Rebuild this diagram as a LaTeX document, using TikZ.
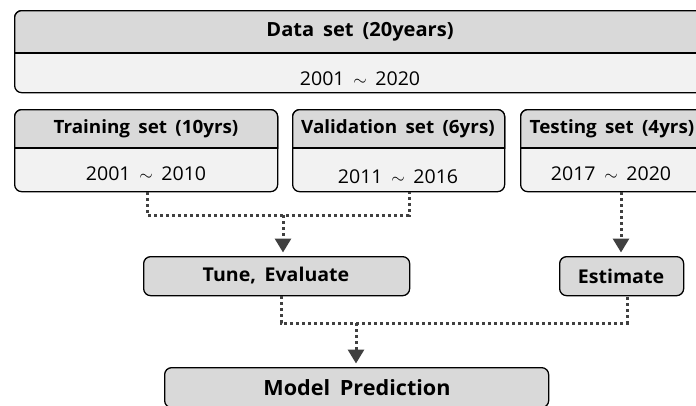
\documentclass[tikz,border=0pt]{standalone}
\usepackage{fontspec}
\setmainfont{Open Sans}[WordSpace=1.7, FakeStretch=1.03]
\usetikzlibrary{arrows.meta,calc}
\definecolor{hdr}{HTML}{D9D9D9}
\definecolor{bodyc}{HTML}{F2F2F2}
\definecolor{dotc}{HTML}{404040}
\begin{document}
\begin{tikzpicture}[x=1pt,y=-1pt,
  box/.style={draw=black, line width=1.3pt, rounded corners=7pt, inner sep=0pt, anchor=north west},
  hdrtxt/.style={font=\fontsize{18.3}{20}\selectfont\bfseries, inner sep=0pt},
  toptxt/.style={font=\fontsize{19.5}{21}\selectfont\bfseries, inner sep=0pt},
  midtxt/.style={font=\fontsize{19}{21}\selectfont\bfseries, inner sep=0pt},
  bigtxt/.style={font=\fontsize{21}{23}\selectfont\bfseries, inner sep=0pt},
  bodytxt/.style={font=\fontsize{19}{21}\selectfont, inner sep=0pt},
  dotline/.style={draw=dotc, line width=3pt, dash pattern=on 3pt off 3pt},
  arr/.style={-{Triangle[width=16pt,length=14pt]}, shorten >=3.5pt}
]
\useasboundingbox (0,0) rectangle (696,405);

% split boxes: #1 name, #2 x1, #3 y1, #4 x2, #5 y2, #6 divider y
\newcommand{\mysplitbox}[6]{%
  \node[box, fill=bodyc, minimum width={(#4-#2)*1pt}, minimum height={(#5-#3)*1pt}] (#1) at (#2,#3) {};
  \begin{scope}
    \clip (#2-3,#3-3) rectangle (#4+3,#6);
    \node[box, fill=hdr, minimum width={(#4-#2)*1pt}, minimum height={(#5-#3)*1pt}] (#1-h) at (#2,#3) {};
  \end{scope}
  \draw[line width=1.3pt] (#1.west |- 0,#6) -- (#1.east |- 0,#6);
}
\newcommand{\mytl}{$\sim$}

\mysplitbox{data}{14}{10}{706}{92}{53}
\mysplitbox{train}{14}{109}{277}{191}{148}
\mysplitbox{valid}{292}{109}{504}{191}{148}
\mysplitbox{test}{520}{109}{704}{191}{148}

\node[toptxt] (data-t) at (360,31.5) {Data set (20years)};
\node[bodytxt] (data-y) at (360,79) {2001 \mytl{} 2020};
\node[hdrtxt] (train-t) at (146,128.5) {Training set (10yrs)};
\node[bodytxt] (train-y) at (146,174) {2001 \mytl{} 2010};
\node[hdrtxt] (valid-t) at (398,128.5) {Validation set (6yrs)};
\node[bodytxt] (valid-y) at (398,177) {2011 \mytl{} 2016};
\node[hdrtxt] (test-t) at (612,128.5) {Testing set (4yrs)};
\node[bodytxt] (test-y) at (611,174) {2017 \mytl{} 2020};

\node[box, fill=hdr, minimum width=266pt, minimum height=39pt] (tune) at (143,256) {};
\node[midtxt] (tune-t) at (276,276) {Tune, Evaluate};
\node[box, fill=hdr, minimum width=124pt, minimum height=39pt] (est) at (559,256) {};
\node[midtxt] (est-t) at (621,276) {Estimate};
\node[box, fill=hdr, minimum width=384pt, minimum height=40pt] (model) at (164,367) {};
\node[bigtxt] (model-t) at (357,388) {Model Prediction};

\coordinate (ja) at (147,215);
\coordinate (jb) at (409,215);
\coordinate (jc) at (283,215);
\coordinate (jd) at (281,323);
\coordinate (je) at (627,323);
\coordinate (jf) at (356,323);
\coordinate (jg) at (621,0);

\draw[dotline] (train.south -| ja) -- (ja) -- (jb) -- (valid.south -| jb);
\draw[dotline, arr] (jc) -- (tune.north -| jc);
\draw[dotline, arr] (test.south -| jg) -- (est.north -| jg);
\draw[dotline] (tune.south -| jd) -- (jd) -- (je) -- (est.south -| je);
\draw[dotline, arr] (jf) -- (model.north -| jf);
\end{tikzpicture}
\end{document}
